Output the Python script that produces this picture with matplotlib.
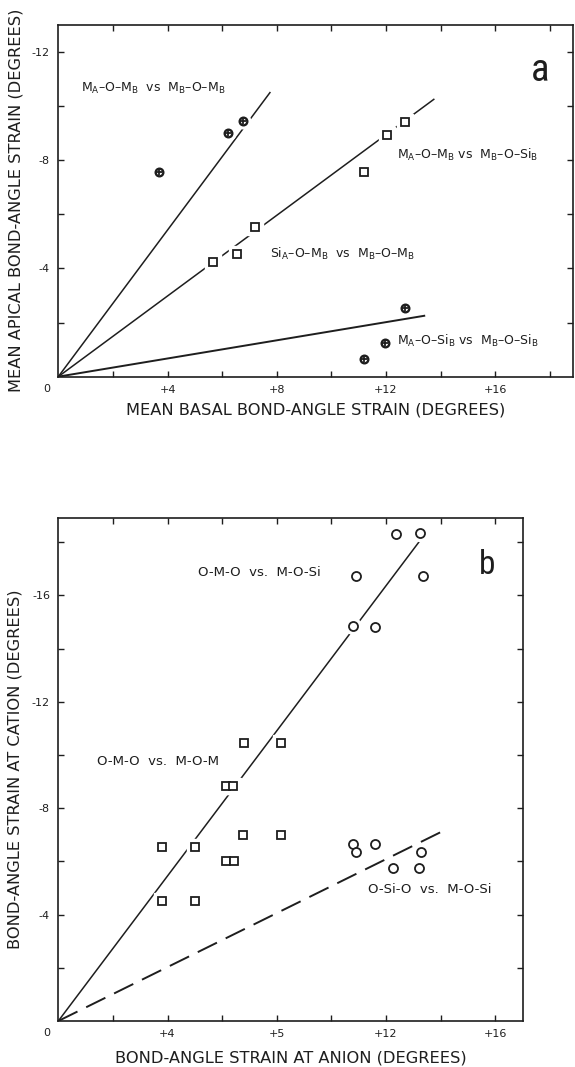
"""
Bond-angle strain plots: (a) mean apical vs mean basal, (b) cation vs anion
"""
import matplotlib.pyplot as plt

# panel a: mean basal (x) and mean apical (y) bond-angle strain, degrees
a_mm_x = [3.7, 6.2, 6.75]                 # MA-O-MB vs MB-O-MB
a_mm_y = [-7.55, -9.0, -9.45]
a_sq_x = [5.65, 6.55, 7.2, 11.2, 12.05, 12.7]  # SiA-O-MB / MA-O-MB vs ...
a_sq_y = [-4.25, -4.55, -5.55, -7.55, -8.95, -9.4]
a_si_x = [12.7, 11.95, 11.2]              # MA-O-SiB vs MB-O-SiB
a_si_y = [-2.55, -1.25, -0.65]
a_fit_x = [7.75, 13.75, 13.4]             # line ends, each line starts at 0
a_fit_y = [-10.5, -10.25, -2.25]
a_xticklabels = {4: '+4', 8: '+8', 12: '+12', 16: '+16'}
a_yticklabels = {-4: '-4', -8: '-8', -12: '-12'}

# panel b: bond-angle strain at anion (x) and at cation (y), degrees
b_sq_x = [3.8, 5.0, 3.8, 5.0, 6.15, 6.45, 6.75, 8.15, 6.15, 6.4, 6.8, 8.15]
b_sq_y = [-6.55, -6.55, -4.5, -4.5, -6.0, -6.0, -7.0, -7.0,
          -8.85, -8.85, -10.45, -10.45]
b_ms_x = [12.35, 13.25, 10.9, 13.35, 10.8, 11.6]
b_ms_y = [-18.3, -18.35, -16.75, -16.75, -14.85, -14.8]
b_si_x = [10.8, 10.9, 11.6, 13.3, 12.25, 13.2]
b_si_y = [-6.65, -6.35, -6.65, -6.35, -5.75, -5.75]
b_fit_x = [13.2, 14.1]
b_fit_y = [-18.0, -7.15]
b_xticklabels = {4: '+4', 8: '+5', 12: '+12', 16: '+16'}
b_yticklabels = {-4: '-4', -8: '-8', -12: '-12', -16: '-16'}

ink = '#1e1e1e'
plt.rcParams['font.family'] = ['DejaVu Sans']
fig = plt.figure(figsize=(5.75, 10.67), dpi=100)
ax1 = fig.add_axes([0.1014, 0.6470, 0.8957, 0.3296])
ax2 = fig.add_axes([0.1014, 0.0431, 0.8087, 0.4711])


def markers(ax, x, y, kind, ms):
    # white halo first so the fitted lines look broken at the symbols
    m = 's' if kind == 'sq' else 'o'
    ax.plot(x, y, ls='none', marker=m, ms=ms + 5, mfc='white', mec='white',
            zorder=3)
    ax.plot(x, y, ls='none', marker=m, ms=ms,
            mfc='white', mec=ink, mew=1.7 if kind == 'oplus' else 1.3,
            zorder=4)
    if kind == 'oplus':
        ax.plot(x, y, ls='none', marker='+', ms=ms - 1, mec=ink,
                mew=1.3, zorder=5)


def style(ax, xmax, ymax, xlabs, ylabs):
    ax.set_xlim(0, xmax)
    ax.set_ylim(0, ymax)
    xt = list(range(2, int(xmax) + 1, 2))
    yt = list(range(-2, int(ymax) - 1, -2))
    ax.set_xticks(xt)
    ax.set_xticklabels([xlabs.get(t, '') for t in xt])
    ax.set_yticks(yt)
    ax.set_yticklabels([ylabs.get(t, '') for t in yt])
    ax.tick_params(direction='in', top=True, right=True, length=4.5,
                   width=1, labelsize=8, pad=6, colors=ink)
    for s in ax.spines.values():
        s.set_linewidth(1.2)
        s.set_color(ink)
    ax.annotate('0', xy=(0, 0), xytext=(-12, -12), textcoords='offset pixels',
                ha='center', va='center', fontsize=8, color=ink)


narrow = ['Roboto Condensed', 'Liberation Sans Narrow', 'DejaVu Sans']

# ---- panel a ----
for xe, ye, lw in zip(a_fit_x, a_fit_y, [1.1, 1.1, 1.4]):
    ax1.plot([0, xe], [0, ye], color=ink, lw=lw, zorder=2)
markers(ax1, a_mm_x, a_mm_y, 'oplus', 5.5)
markers(ax1, a_sq_x, a_sq_y, 'sq', 6)
markers(ax1, a_si_x, a_si_y, 'oplus', 5.5)
style(ax1, 18.86, -13.0, a_xticklabels, a_yticklabels)

sub = r'$_\mathregular{%s}$'
tk = dict(fontsize=9, va='center', ha='left', color=ink)
ax1.text(0.83, -10.67, 'M' + sub % 'A' + '–O–M' + sub % 'B' + '  vs  M'
         + sub % 'B' + '–O–M' + sub % 'B', **tk)
ax1.text(12.42, -8.19, 'M' + sub % 'A' + '–O–M' + sub % 'B' + ' vs  M'
         + sub % 'B' + '–O–Si' + sub % 'B', **tk)
ax1.text(7.74, -4.54, 'Si' + sub % 'A' + '–O–M' + sub % 'B' + '  vs  M'
         + sub % 'B' + '–O–M' + sub % 'B', **tk)
ax1.text(12.42, -1.32, 'M' + sub % 'A' + '–O–Si' + sub % 'B' + ' vs  M'
         + sub % 'B' + '–O–Si' + sub % 'B', **tk)
ax1.text(17.64, -11.31, 'a', fontsize=28, ha='center', va='center',
         family=narrow, stretch='condensed', color=ink)

ax1.set_xlabel('MEAN BASAL BOND-ANGLE STRAIN (DEGREES)', fontsize=11.7,
               color=ink, va='center')
ax1.xaxis.set_label_coords(0.5, -0.0947)
ax1.set_ylabel('MEAN APICAL BOND-ANGLE STRAIN (DEGREES)', fontsize=11.7,
               color=ink, va='center')
ax1.yaxis.set_label_coords(-0.083, 0.5)

# ---- panel b ----
ax2.plot([0, b_fit_x[0]], [0, b_fit_y[0]], color=ink, lw=1.1, zorder=2)
ax2.plot([0, b_fit_x[1]], [0, b_fit_y[1]], color=ink, lw=1.4,
         dashes=(11, 5), zorder=2)
markers(ax2, b_sq_x, b_sq_y, 'sq', 6)
markers(ax2, b_ms_x, b_ms_y, 'circ', 6.5)
markers(ax2, b_si_x, b_si_y, 'circ', 6.5)
style(ax2, 17.03, -18.9, b_xticklabels, b_yticklabels)

tb = dict(tk, fontsize=9.5)
ax2.text(5.1, -16.86, 'O-M-O  vs.  M-O-Si', **tb)
ax2.text(1.41, -9.75, 'O-M-O  vs.  M-O-M', **tb)
ax2.text(11.33, -4.94, 'O-Si-O  vs.  M-O-Si', **tb)
ax2.text(15.7, -17.14, 'b', fontsize=24, ha='center', va='center',
         family=narrow, stretch='condensed', color=ink)

ax2.set_xlabel('BOND-ANGLE STRAIN AT ANION (DEGREES)', fontsize=11.7,
               color=ink, va='center')
ax2.xaxis.set_label_coords(0.5, -0.0736)
ax2.set_ylabel('BOND-ANGLE STRAIN AT CATION (DEGREES)', fontsize=11.7,
               color=ink, va='center')
ax2.yaxis.set_label_coords(-0.094, 0.5)

fig.savefig('out.png', dpi=100)
